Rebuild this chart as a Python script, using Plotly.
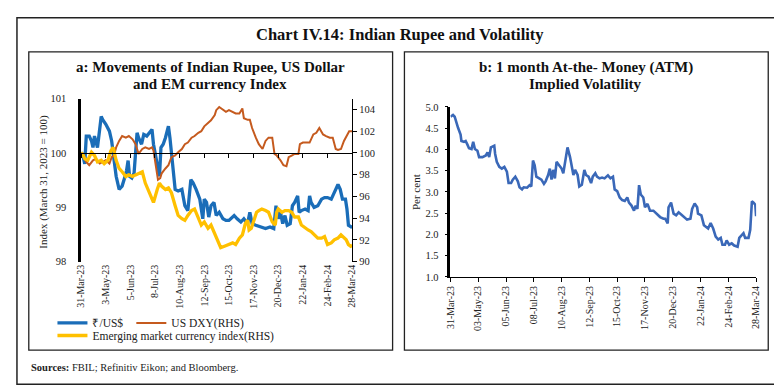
import pandas as pd
import plotly.graph_objects as go

W, H = 782, 388
BASE = pd.Timestamp("2023-03-31")

# ---------------- data (day offsets from 31-Mar-2023) ----------------
inr_days = [0, 2, 5, 7, 11, 14, 16, 18, 22, 27, 29, 33, 38, 41, 44, 47, 51, 55, 59, 61, 63, 65, 68, 71,
            75, 77, 81, 84, 88, 93, 95, 97, 102, 105, 107, 110, 113, 115, 117, 119, 122, 126, 130, 135,
            139, 143, 147, 150, 154, 159, 163, 165, 168, 171, 174, 178, 181, 185, 190, 194, 198,
            205, 209, 214, 218, 223, 226, 229, 234, 240, 247, 253, 258, 261, 264, 267, 270, 273, 276,
            280, 283, 286, 290, 292, 295, 300, 304, 306, 308, 312, 317, 322, 326, 330, 335, 339, 344,
            347, 350, 354, 356, 358, 361, 363]
inr_vals = [100.00, 99.98, 99.80, 100.31, 100.31, 100.22, 100.10, 100.31, 100.10, 100.67, 100.61, 100.53,
            100.40, 100.22, 99.89, 99.57, 99.33, 99.39, 99.57, 99.68, 99.86, 99.57, 99.54, 99.63,
            100.37, 100.28, 100.16, 100.34, 100.31, 100.41, 100.43, 100.16, 99.80, 99.57, 100.10, 100.16,
            100.28, 100.40, 100.49, 100.28, 99.80, 99.33, 99.30, 99.33, 99.03, 98.94, 99.51, 99.45,
            99.33, 99.15, 98.79, 99.15, 99.09, 98.82, 99.03, 99.09, 98.85, 98.91, 98.79, 98.76, 98.76,
            98.85, 98.79, 98.73, 98.79, 98.70, 98.91, 98.70, 98.67, 98.64, 98.61, 98.64, 98.61, 99.03,
            98.79, 98.91, 98.70, 98.85, 98.67, 98.70, 99.03, 99.09, 99.21, 98.91, 98.94, 98.97, 98.94,
            99.21, 99.09, 99.00, 99.03, 99.15, 99.18, 99.18, 99.15, 99.27, 99.42, 99.33, 99.15, 99.15,
            98.97, 98.67, 98.64, 98.63]

dxy_days = [0, 3, 7, 11, 16, 20, 25, 29, 33, 38, 41, 44, 47, 51, 55, 60, 64, 69, 73, 77, 82, 86, 91,
            95, 97, 99, 103, 106, 108, 113, 117, 121, 126, 130, 135, 139, 143, 148, 152, 157, 161, 165,
            170, 174, 179, 181, 185, 190, 194, 198, 203, 207, 212, 216, 218, 223, 226, 229, 234, 238,
            243, 247, 251, 256, 259, 262, 267, 271, 275, 278, 282, 286, 291, 293, 297, 302, 306, 311,
            315, 319, 324, 328, 333, 337, 341, 344, 348, 352, 356, 359, 363]
dxy_vals = [100.00, 99.76, 99.17, 98.87, 99.32, 99.46, 99.02, 99.17, 99.32, 99.02, 99.61, 99.76, 100.51,
            101.10, 101.55, 101.40, 101.55, 101.25, 100.80, 99.91, 100.36, 100.51, 100.36, 100.51, 100.21,
            99.32, 97.53, 97.68, 98.13, 98.57, 98.87, 99.61, 99.76, 100.06, 100.36, 100.80, 100.95,
            101.40, 101.55, 101.85, 101.99, 102.44, 102.74, 103.00, 103.48, 103.93, 104.22, 103.93,
            103.78, 103.93, 103.78, 103.63, 103.63, 104.08, 103.19, 103.04, 103.04, 102.29, 101.40,
            100.80, 100.36, 101.10, 101.40, 101.40, 99.91, 99.76, 99.32, 98.87, 98.78, 99.61, 99.76,
            99.91, 99.91, 100.80, 100.95, 100.95, 100.95, 101.70, 101.85, 102.29, 101.70, 101.55,
            101.40, 101.40, 100.36, 100.27, 100.36, 101.10, 101.70, 101.99, 101.99]

em_days = [0, 2, 5, 9, 14, 18, 22, 27, 31, 36, 40, 43, 47, 51, 55, 60, 64, 69, 73, 77, 82, 86, 91, 95,
           97, 102, 105, 108, 113, 117, 121, 126, 130, 135, 139, 143, 148, 152, 157, 161, 165, 170, 174,
           179, 183, 187, 192, 198, 203, 207, 212, 216, 220, 223, 225, 228, 231, 235, 238, 242, 247,
           251, 256, 260, 262, 264, 269, 273, 278, 282, 286, 291, 295, 300, 304, 308, 313, 317, 322,
           326, 330, 335, 339, 344, 348, 352, 355, 358, 361, 363]
em_vals = [100.00, 99.91, 99.46, 99.32, 100.06, 99.76, 99.17, 99.32, 99.02, 99.32, 100.21, 100.51, 99.32,
           98.57, 98.27, 97.83, 97.98, 97.83, 97.98, 98.13, 98.27, 97.23, 96.34, 95.74, 95.45, 96.64,
           97.23, 96.93, 96.64, 96.79, 96.34, 95.15, 94.26, 93.96, 93.81, 94.26, 94.70, 94.85, 93.96,
           93.37, 93.66, 93.07, 93.37, 92.60, 91.88, 91.30, 91.43, 91.58, 91.73, 91.58, 92.17, 92.47,
           93.51, 93.81, 92.92, 93.07, 93.66, 94.55, 94.70, 94.85, 94.70, 94.55, 93.66, 93.37, 94.55,
           94.85, 94.55, 94.70, 94.70, 94.55, 94.11, 94.11, 93.37, 93.07, 92.92, 92.77, 92.47, 92.17,
           92.17, 92.32, 91.58, 91.73, 92.02, 92.17, 92.47, 92.17, 92.02, 91.58, 91.43, 91.52]

atm_days = [0, 3, 5, 7, 9, 12, 13, 16, 18, 20, 22, 25, 27, 29, 32, 34, 38, 42, 44, 46, 48, 52, 53, 55,
            58, 61, 64, 67, 69, 72, 74, 77, 80, 82, 85, 87, 91, 94, 96, 98, 100, 102, 105, 108, 111, 113,
            116, 118, 120, 122, 124, 126, 129, 132, 134, 137, 139, 142, 144, 146, 148, 151, 153, 156,
            159, 161, 164, 167, 169, 172, 174, 177, 180, 183, 187, 190, 193, 195, 198, 201, 204, 207,
            210, 212, 215, 218, 220, 222, 224, 226, 229, 231, 234, 237, 241, 245, 249, 253, 255, 258,
            259, 262, 265, 268, 271, 274, 277, 281, 285, 287, 290, 293, 294, 298, 301, 303, 306, 309,
            312, 315, 318, 321, 323, 326, 328, 331, 334, 337, 341, 343, 345, 348, 350, 354, 356, 358,
            360, 362, 363]
atm_vals = [4.77, 4.81, 4.77, 4.62, 4.51, 4.35, 4.20, 4.18, 4.20, 4.12, 4.03, 4.01, 4.18, 4.01, 3.97,
            3.82, 3.82, 3.86, 3.93, 3.82, 4.05, 4.09, 3.90, 3.71, 3.59, 3.55, 3.59, 3.48, 3.21, 3.21,
            3.29, 3.36, 3.25, 3.11, 3.06, 3.11, 3.10, 3.16, 3.13, 3.74, 3.63, 3.36, 3.32, 3.29, 3.19,
            3.25, 3.40, 3.55, 3.29, 3.52, 3.32, 3.71, 3.63, 3.55, 3.44, 3.78, 4.05, 3.82, 3.59, 3.40,
            3.52, 3.40, 3.13, 3.17, 3.52, 3.40, 3.36, 3.21, 3.36, 3.44, 3.36, 3.32, 3.34, 3.32, 3.39,
            3.32, 3.36, 3.06, 3.02, 2.87, 2.81, 2.79, 2.87, 2.75, 2.68, 2.56, 2.68, 2.60, 3.16, 2.94,
            2.87, 2.64, 2.72, 2.56, 2.56, 2.49, 2.41, 2.37, 2.37, 2.26, 2.64, 2.75, 2.49, 2.45, 2.52,
            2.47, 2.41, 2.35, 2.37, 2.60, 2.73, 2.64, 2.49, 2.45, 2.22, 2.18, 2.14, 2.27, 2.14, 1.95,
            1.88, 1.92, 1.76, 1.76, 1.86, 1.76, 1.79, 1.74, 1.71, 1.92, 1.97, 2.03, 1.92, 1.92, 2.11,
            2.78, 2.75, 2.70, 2.43]

tick_dates = ["2023-03-31", "2023-05-03", "2023-06-05", "2023-07-08", "2023-08-10", "2023-09-12",
              "2023-10-15", "2023-11-17", "2023-12-20", "2024-01-22", "2024-02-24", "2024-03-28"]
tick_text_a = ["31-Mar-23", "3-May-23", "5-Jun-23", "8-Jul-23", "10-Aug-23", "12-Sep-23",
               "15-Oct-23", "17-Nov-23", "20-Dec-23", "22-Jan-24", "24-Feb-24", "28-Mar-24"]
tick_text_b = ["31-Mar-23", "03-May-23", "05-Jun-23", "08-Jul-23", "10-Aug-23", "12-Sep-23",
               "15-Oct-23", "17-Nov-23", "20-Dec-23", "22-Jan-24", "24-Feb-24", "28-Mar-24"]


def to_dates(days):
    return BASE + pd.to_timedelta(days, unit="D")


def px(x):
    return x / W


def py(y):
    return 1 - y / H


FONT = "Liberation Serif"
BLUE = "#1A6DB8"
ORANGE = "#C55A1E"
YELLOW = "#FFC000"
BLUE2 = "#3A68B8"

fig = go.Figure()
fig.add_trace(go.Scatter(x=to_dates(inr_days), y=inr_vals, mode="lines", name="₹/US$",
                         line=dict(color=BLUE, width=3.3), xaxis="x", yaxis="y", legend="legend"))
fig.add_trace(go.Scatter(x=to_dates(dxy_days), y=dxy_vals, mode="lines", name="US DXY(RHS)",
                         line=dict(color=ORANGE, width=2), xaxis="x", yaxis="y2", legend="legend3"))
fig.add_trace(go.Scatter(x=to_dates(em_days), y=em_vals, mode="lines",
                         name="Emerging market currency index(RHS)",
                         line=dict(color=YELLOW, width=3.3), xaxis="x", yaxis="y2", legend="legend2"))
# helper trace so the axis crossing at 100 is drawn
fig.add_trace(go.Scatter(x=[tick_dates[0]], y=[100], mode="markers", marker=dict(opacity=0),
                         showlegend=False, hoverinfo="skip", xaxis="x3", yaxis="y"))
fig.add_trace(go.Scatter(x=to_dates(atm_days), y=atm_vals, mode="lines", showlegend=False,
                         line=dict(color=BLUE2, width=2.6), xaxis="x4", yaxis="y4"))

xr = [tick_dates[0], tick_dates[-1]]
dom_ax = [px(68), px(343)]
dom_ay = [py(256), py(88)]
dom_bx = [px(442.7), px(752.7)]
dom_by = [py(271.7), py(96.7)]
tickfont = dict(family=FONT, size=10.5, color="#222")
datefont = dict(family=FONT, size=10, color="#222")
legfont = dict(family=FONT, size=11.5, color="#222")

fig.update_layout(
    width=W, height=H, margin=dict(l=0, r=0, t=0, b=0),
    paper_bgcolor="white", plot_bgcolor="white",
    font=dict(family=FONT, size=10, color="#222"),
    xaxis=dict(domain=dom_ax, range=xr, type="date", anchor="y", tickvals=tick_dates,
               ticktext=tick_text_a, tickangle=-90, showline=False, showgrid=False, ticks="",
               zeroline=False, tickfont=datefont, ticklabelstandoff=0),
    xaxis3=dict(domain=dom_ax, range=xr, type="date", overlaying="x", anchor="free",
                position=dom_ay[0] + (dom_ay[1] - dom_ay[0]) * 2 / 3,
                tickvals=tick_dates, showticklabels=False, showline=True, linecolor="black",
                linewidth=1, ticks="outside", ticklen=4, tickcolor="black", showgrid=False),
    yaxis=dict(domain=dom_ay, range=[98, 101], tickvals=[98, 99, 100, 101], anchor="x",
               showline=True, linecolor="black", linewidth=2.5, showgrid=False, zeroline=False,
               ticks="", tickfont=tickfont, ticklabelstandoff=10),
    yaxis2=dict(domain=dom_ay, range=[90, 105], tickvals=[90, 92, 94, 96, 98, 100, 102, 104],
                overlaying="y", side="right", anchor="x", showline=True, linecolor="black",
                linewidth=1, ticks="outside", ticklen=4, tickcolor="black", showgrid=False,
                zeroline=False, tickfont=tickfont),
    xaxis4=dict(domain=dom_bx, range=xr, type="date", anchor="y4", tickvals=tick_dates,
                ticktext=tick_text_b, tickangle=-90, showline=True, linecolor="black", linewidth=1,
                ticks="outside", ticklen=4, tickcolor="black", showgrid=False, zeroline=False,
                tickfont=datefont),
    yaxis4=dict(domain=dom_by, range=[1, 5], dtick=0.5, tickformat=".1f", anchor="x4",
                showline=True, linecolor="black", linewidth=2.5, ticks="outside", ticklen=3,
                tickcolor="black", showgrid=False, zeroline=False, tickfont=tickfont,
                ticklabelstandoff=4),
    legend=dict(orientation="h", x=px(39), y=py(304), xanchor="left", yanchor="top",
                font=legfont, bgcolor="rgba(0,0,0,0)", itemwidth=30),
    legend3=dict(orientation="h", x=px(119), y=py(304), xanchor="left", yanchor="top",
                 font=legfont, bgcolor="rgba(0,0,0,0)", itemwidth=30),
    legend2=dict(orientation="h", x=px(39), y=py(317), xanchor="left", yanchor="top",
                 font=legfont, bgcolor="rgba(0,0,0,0)", itemwidth=30),
    showlegend=True,
)

shapes = [
    dict(type="rect", xref="paper", yref="paper", x0=px(3), x1=px(777), y0=py(382), y1=py(5),
         line=dict(color="#222", width=1.5)),
    dict(type="rect", xref="paper", yref="paper", x0=px(15), x1=px(384), y0=py(347), y1=py(40),
         line=dict(color="#222", width=1.3)),
    dict(type="rect", xref="paper", yref="paper", x0=px(396), x1=px(765), y0=py(347), y1=py(40),
         line=dict(color="#222", width=1.3)),
]
fig.update_layout(shapes=shapes)

ann = [
    dict(text="<b>Chart IV.14: Indian Rupee and Volatility</b>", x=px(391), y=py(22),
         font=dict(family=FONT, size=16.5, color="#111")),
    dict(text="<b>a: Movements of Indian Rupee, US Dollar</b>", x=px(199), y=py(56),
         font=dict(family=FONT, size=15, color="#111")),
    dict(text="<b>and EM currency Index</b>", x=px(199), y=py(73),
         font=dict(family=FONT, size=15, color="#111")),
    dict(text="<b>b: 1 month At-the- Money (ATM)</b>", x=px(580), y=py(56),
         font=dict(family=FONT, size=15, color="#111")),
    dict(text="<b>Implied Volatility</b>", x=px(580), y=py(73),
         font=dict(family=FONT, size=15, color="#111")),
    dict(text="Index (March 31, 2023 = 100)", x=px(29), y=py(174), textangle=-90,
         font=dict(family=FONT, size=11, color="#222")),
    dict(text="Per cent", x=px(408), y=py(184), textangle=-90,
         font=dict(family=FONT, size=11, color="#222")),
    dict(text="<b>Sources:</b> FBIL; Refinitiv Eikon; and Bloomberg.", x=px(15), y=py(365),
         xanchor="left", font=dict(family=FONT, size=10.5, color="#222")),
]
for a in ann:
    a.setdefault("xanchor", "center")
    a.update(xref="paper", yref="paper", yanchor="middle", showarrow=False)
fig.update_layout(annotations=ann)

fig.write_html("out.html")
